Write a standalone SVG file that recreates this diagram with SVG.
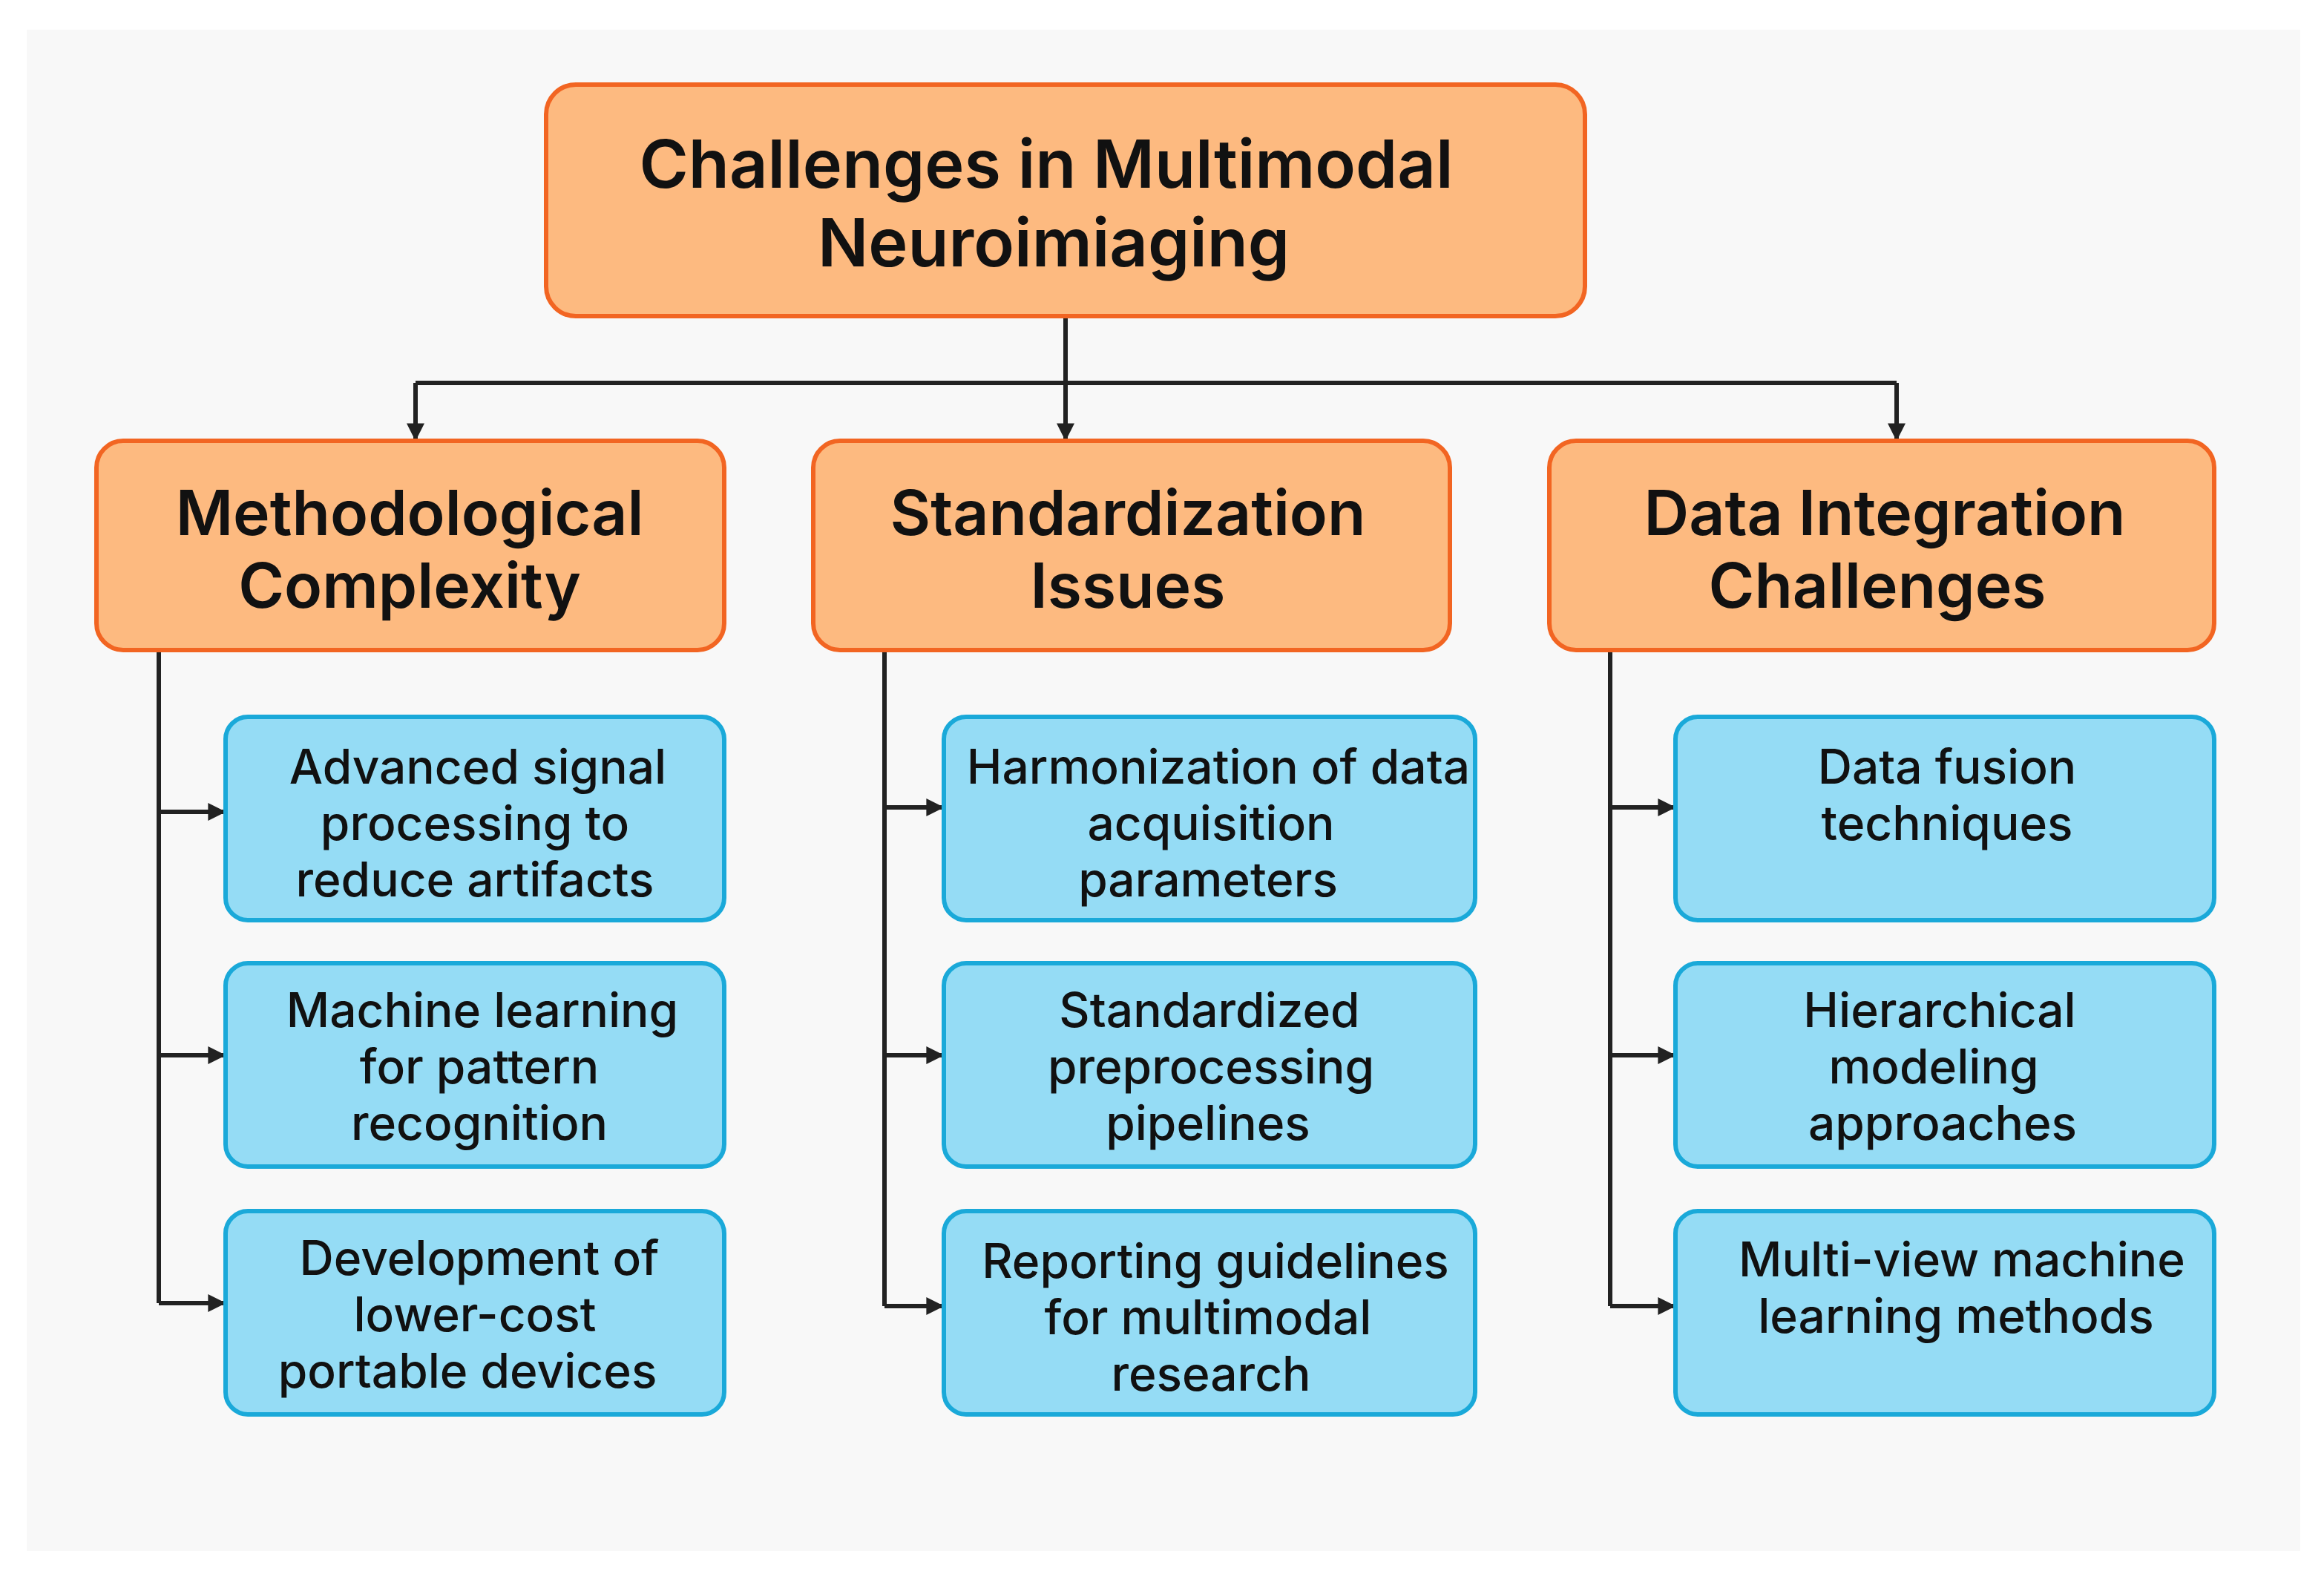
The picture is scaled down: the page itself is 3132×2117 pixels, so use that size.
<svg xmlns="http://www.w3.org/2000/svg" width="3132" height="2117" viewBox="0 0 3132 2117">
<style>
.o{fill:#fdba80;stroke:#f26522;stroke-width:6}
.b{fill:#95dcf5;stroke:#1aa9d9;stroke-width:6}
.t{font-family:Inter,"Liberation Sans",sans-serif;fill:#111;text-anchor:middle;dominant-baseline:central}
.h{font-size:90px;font-weight:600}
.c{font-size:84px;font-weight:600}
.s{font-size:64px;font-weight:500}
.l{stroke:#222;stroke-width:6;fill:none}
</style>
<defs><marker id="a" markerWidth="8" markerHeight="8" refX="7" refY="4" orient="auto" markerUnits="userSpaceOnUse" viewBox="0 0 8 8"><path d="M0,0L8,4L0,8z" fill="#222"/></marker>
<marker id="m" viewBox="0 0 10 10" refX="9" refY="5" markerWidth="24" markerHeight="24" orient="auto" markerUnits="userSpaceOnUse"><path d="M0,0L10,5L0,10z" fill="#222"/></marker></defs>
<rect width="3132" height="2117" fill="#fff"/>
<rect x="36" y="40" width="3064" height="2050" fill="#f8f8f8"/>
<g id="connectors">
<path class="l" d="M1436,426V516M560,516H2556"/>
<path class="l" d="M560,516V592" marker-end="url(#m)"/>
<path class="l" d="M1436,516V592" marker-end="url(#m)"/>
<path class="l" d="M2556,516V592" marker-end="url(#m)"/>
<path class="l" d="M214,876V1756"/>
<path class="l" d="M214,1094H302" marker-end="url(#m)"/>
<path class="l" d="M214,1422H302" marker-end="url(#m)"/>
<path class="l" d="M214,1756H302" marker-end="url(#m)"/>
<path class="l" d="M1192,876V1760"/>
<path class="l" d="M1192,1088H1270" marker-end="url(#m)"/>
<path class="l" d="M1192,1422H1270" marker-end="url(#m)"/>
<path class="l" d="M1192,1760H1270" marker-end="url(#m)"/>
<path class="l" d="M2170,876V1760"/>
<path class="l" d="M2170,1088H2256" marker-end="url(#m)"/>
<path class="l" d="M2170,1422H2256" marker-end="url(#m)"/>
<path class="l" d="M2170,1760H2256" marker-end="url(#m)"/>
</g>
<g id="root"><rect class="o" x="736" y="114" width="1400" height="312" rx="40"/>
<text class="t h" x="1410" y="220">Challenges in Multimodal</text><text class="t h" x="1420" y="326">Neuroimiaging</text></g>
<g id="cat1"><rect class="o" x="130" y="594" width="846" height="282" rx="36"/>
<text class="t c" x="552" y="690">Methodological</text><text class="t c" x="552" y="788">Complexity</text></g>
<g id="cat2"><rect class="o" x="1096" y="594" width="858" height="282" rx="36"/>
<text class="t c" x="1520" y="690">Standardization</text><text class="t c" x="1520" y="788">Issues</text></g>
<g id="cat3"><rect class="o" x="2088" y="594" width="896" height="282" rx="36"/>
<text class="t c" x="2540" y="690">Data Integration</text><text class="t c" x="2530" y="788">Challenges</text></g>
<g id="n11"><rect class="b" x="304" y="966" width="672" height="274" rx="30"/>
<text class="t s" x="644" y="1032">Advanced signal</text><text class="t s" x="640" y="1108">processing to</text><text class="t s" x="640" y="1184">reduce artifacts</text></g>
<g id="n12"><rect class="b" x="304" y="1298" width="672" height="274" rx="30"/>
<text class="t s" x="650" y="1360">Machine learning</text><text class="t s" x="646" y="1436">for pattern</text><text class="t s" x="646" y="1512">recognition</text></g>
<g id="n13"><rect class="b" x="304" y="1632" width="672" height="274" rx="30"/>
<text class="t s" x="646" y="1694">Development of</text><text class="t s" x="640" y="1770">lower-cost</text><text class="t s" x="630" y="1846">portable devices</text></g>
<g id="n21"><rect class="b" x="1272" y="966" width="716" height="274" rx="30"/>
<text class="t s" x="1642" y="1032">Harmonization of data</text><text class="t s" x="1632" y="1108">acquisition</text><text class="t s" x="1628" y="1184">parameters</text></g>
<g id="n22"><rect class="b" x="1272" y="1298" width="716" height="274" rx="30"/>
<text class="t s" x="1630" y="1360">Standardized</text><text class="t s" x="1632" y="1436">preprocessing</text><text class="t s" x="1628" y="1512">pipelines</text></g>
<g id="n23"><rect class="b" x="1272" y="1632" width="716" height="274" rx="30"/>
<text class="t s" x="1638" y="1698">Reporting guidelines</text><text class="t s" x="1628" y="1774">for multimodal</text><text class="t s" x="1632" y="1850">research</text></g>
<g id="n31"><rect class="b" x="2258" y="966" width="726" height="274" rx="30"/>
<text class="t s" x="2624" y="1032">Data fusion</text><text class="t s" x="2624" y="1108">techniques</text></g>
<g id="n32"><rect class="b" x="2258" y="1298" width="726" height="274" rx="30"/>
<text class="t s" x="2614" y="1360">Hierarchical</text><text class="t s" x="2606" y="1436">modeling</text><text class="t s" x="2618" y="1512">approaches</text></g>
<g id="n33"><rect class="b" x="2258" y="1632" width="726" height="274" rx="30"/>
<text class="t s" x="2644" y="1696">Multi-view machine</text><text class="t s" x="2636" y="1772">learning methods</text></g>
</svg>
